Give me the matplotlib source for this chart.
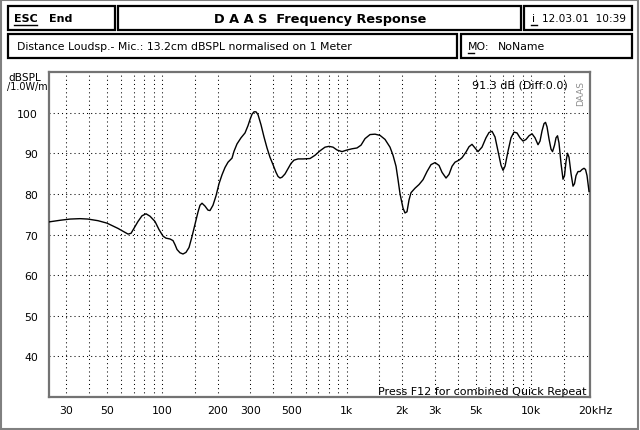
import matplotlib
matplotlib.use("Agg")
import matplotlib.pyplot as plt
from matplotlib.patches import Rectangle
from matplotlib.lines import Line2D
import matplotlib.transforms as mtrans

# ---- data ----
freq_hz = [24.3, 27.9, 31.6, 35.8, 39.5, 44.8, 50.1, 54.0, 57.5, 61.2, 65.2, 67.7, 70.2, 73.8,
           77.6, 81.6, 85.8, 91.3, 96.0, 100.9, 104.7, 110.1, 114.3, 117.2, 120.2, 124.7, 129.5,
           134.4, 139.6, 144.9, 150.4, 156.1, 160.1, 164.2, 170.4, 176.9, 181.4, 188.3, 195.5,
           203.0, 210.8, 218.8, 227.2, 238.8, 244.9, 254.2, 267.2, 280.9, 291.6, 299.0, 306.5,
           314.3, 322.2, 330.4, 343.0, 356.1, 369.7, 383.8, 398.4, 413.6, 424.1, 434.8, 445.8,
           462.8, 480.5, 498.8, 517.8, 544.4, 579.4, 632.4, 673.1, 716.6, 762.7, 801.7, 842.8,
           886.0, 943.1, 1004, 1069, 1137, 1196, 1257, 1338, 1424, 1516, 1614, 1717, 1783, 1851,
           1898, 1946, 2020, 2071, 2123, 2177, 2232, 2347, 2467, 2594, 2726, 2866, 3013, 3167,
           3288, 3456, 3588, 3726, 3866, 4064, 4220, 4436, 4604, 4780, 4964, 5152, 5416, 5692,
           5910, 6138, 6372, 6616, 6869, 7042, 7220, 7494, 7780, 8078, 8387, 8706, 9040, 9383,
           9741, 10113, 10499, 10900, 11177, 11459, 11749, 11971, 12197, 12507, 12823, 13066,
           13396, 13646, 13905, 14167, 14526, 14894, 15175, 15462, 15755, 16053, 16458, 16875,
           17194, 17519, 17962, 18416, 18881, 19359, 19724, 20098, 20350, 20606]
spl_db = [73.1, 73.5, 73.8, 73.9, 73.8, 73.4, 72.8, 72.1, 71.5, 70.8, 70.1, 70.3, 71.5, 73.2,
          74.6, 75.1, 74.5, 73.2, 71.2, 69.6, 69.1, 68.9, 68.5, 67.5, 66.3, 65.5, 65.2,
          65.6, 66.8, 69.5, 72.5, 75.5, 77.2, 77.7, 77.0, 76.0, 75.9, 77.2, 79.5,
          82.5, 84.7, 86.5, 87.8, 88.8, 90.5, 92.3, 93.8, 95.0, 96.8, 98.3, 99.6,
          100.2, 100.2, 99.5, 97.0, 94.0, 91.3, 89.0, 87.2, 85.3, 84.3, 83.9, 84.1,
          84.9, 86.2, 87.5, 88.3, 88.6, 88.6, 88.7, 89.5, 90.6, 91.5, 91.7, 91.5,
          90.8, 90.4, 90.8, 91.1, 91.3, 92.0, 93.6, 94.6, 94.7, 94.4, 93.4, 91.5, 89.5, 86.8,
          83.5, 80.0, 76.5, 75.3, 75.6, 78.5, 80.3, 81.4, 82.3, 83.5, 85.5, 87.2, 87.7, 87.0,
          85.3, 83.9, 84.8, 86.8, 87.8, 88.3, 88.9, 90.3, 91.6, 92.2, 91.3, 90.4, 91.5, 93.8,
          95.1, 95.4, 94.0, 90.5, 87.0, 85.8, 86.8, 90.5, 93.8, 95.2, 95.0, 93.8, 93.0, 93.4,
          94.3, 94.8, 93.8, 92.1, 93.0, 95.5, 97.3, 97.6, 96.5, 93.5, 91.0, 90.4,
          92.0, 93.8, 94.3, 92.5, 87.5, 83.6, 84.5, 88.0, 90.0, 89.0, 85.0, 81.9,
          82.5, 84.5, 85.5, 85.5, 86.0, 86.3, 86.0, 84.5, 82.5, 80.6]

x_ticks = [30, 50, 100, 200, 300, 500, 1000, 2000, 3000, 5000, 10000, 20000]
x_tick_labels = ["30", "50", "100", "200", "300", "500", "1k", "2k", "3k", "5k", "10k", "20kHz"]
x_grid = [30, 40, 50, 60, 70, 80, 90, 100, 150, 200, 300, 400, 500, 600, 700, 800, 900,
          1000, 1500, 2000, 3000, 4000, 5000, 6000, 7000, 8000, 9000, 10000, 15000]
y_ticks = [40, 50, 60, 70, 80, 90, 100]
y_tick_labels = ["40", "50", "60", "70", "80", "90", "100"]

W, H = 640, 431
fig = plt.figure(figsize=(W / 100, H / 100), dpi=100)
fig.patch.set_facecolor("white")


def fx(px):
    return px / W


def fy(py):
    return 1 - py / H


# axes: left 49, right 590, top 73, bottom 398 (pixels)
ax = fig.add_axes([fx(49), fy(398), fx(590) - fx(49), fy(73) - fy(398)])
ax.set_xscale("log")
ax.set_xlim(24.3, 20860)
ax.set_ylim(30, 110)

dot = (0, (1, 3))
for g in x_grid:
    ax.axvline(g, color="black", lw=0.75, ls=dot, zorder=1)
for g in y_ticks:
    ax.axhline(g, color="black", lw=0.75, ls=dot, zorder=1)

ax.plot(freq_hz, spl_db, color="black", lw=1.0, zorder=3, solid_joinstyle="round")

ax.set_xticks(x_ticks)
ax.set_xticklabels(x_tick_labels)
ax.xaxis.set_minor_locator(matplotlib.ticker.NullLocator())
ax.set_yticks(y_ticks)
ax.set_yticklabels(y_tick_labels)
ax.tick_params(axis="both", length=0, labelsize=7.8, colors="black")
ax.tick_params(axis="x", pad=6)
ax.tick_params(axis="y", pad=8)
last = ax.get_xticklabels()[-1]
last.set_horizontalalignment("left")
last.set_transform(last.get_transform() + mtrans.ScaledTranslation(-8 / 100, 0, fig.dpi_scale_trans))

for s in ax.spines.values():
    s.set_color("0.45")
    s.set_linewidth(1.6)

# texts inside plot
fig.text(fx(568), fy(85), "91.3 dB (Diff:0.0)", ha="right", va="center", fontsize=8)
fig.text(fx(587), fy(397), "Press F12 for combined Quick Repeat", ha="right", va="bottom", fontsize=8)
fig.text(fx(581), fy(93), "DAAS", ha="center", va="center", fontsize=6.5, rotation=90, color="0.55")

# y-axis unit label
fig.text(fx(25), fy(78), "dBSPL", ha="center", va="center", fontsize=7.6)
fig.text(fx(48), fy(87), "/1.0W/m", ha="right", va="center", fontsize=6.9)

# header boxes
def box(x0, y0, x1, y1):
    fig.patches.append(Rectangle((fx(x0), fy(y1)), fx(x1) - fx(x0), fy(y0) - fy(y1),
                                 transform=fig.transFigure, fill=False, ec="black", lw=1.6))

box(8, 7, 115, 31)
box(118, 7, 521, 31)
box(524, 7, 632, 31)
box(8, 35, 457, 59)
box(461, 35, 632, 59)

# figure border
fig.patches.append(Rectangle((fx(1), fy(430)), fx(638) - fx(1), fy(1) - fy(430),
                             transform=fig.transFigure, fill=False, ec="0.5", lw=1.5))

fig.text(fx(14), fy(19), "ESC", ha="left", va="center", fontsize=8, fontweight="bold")
fig.lines.append(Line2D([fx(14), fx(37)], [fy(26), fy(26)], transform=fig.transFigure, color="black", lw=1))
fig.text(fx(49), fy(19), "End", ha="left", va="center", fontsize=8, fontweight="bold")
fig.text(fx(320), fy(20), "D A A S  Frequency Response", ha="center", va="center", fontsize=9.3, fontweight="bold")
fig.text(fx(532), fy(19), "i", ha="left", va="center", fontsize=7.8)
fig.lines.append(Line2D([fx(531), fx(537)], [fy(26), fy(26)], transform=fig.transFigure, color="black", lw=1))
fig.text(fx(542), fy(19), "12.03.01  10:39", ha="left", va="center", fontsize=7.6)
fig.text(fx(17), fy(47), "Distance Loudsp.- Mic.: 13.2cm dBSPL normalised on 1 Meter", ha="left", va="center", fontsize=7.8)
fig.text(fx(468), fy(47), "MO:", ha="left", va="center", fontsize=7.8)
fig.lines.append(Line2D([fx(468), fx(474)], [fy(54), fy(54)], transform=fig.transFigure, color="black", lw=1))
fig.text(fx(498), fy(47), "NoName", ha="left", va="center", fontsize=7.8)

fig.savefig("out.png", dpi=100, facecolor="white")
